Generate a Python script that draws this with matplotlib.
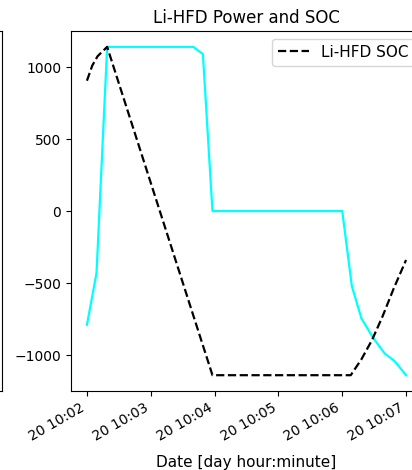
import numpy as np
import matplotlib
matplotlib.use("Agg")
import matplotlib.pyplot as plt
import matplotlib.dates as mdates

start = np.datetime64("2021-01-20T10:02:00")

# Li-HFD power samples (seconds after 10:02:00)
power_t = [0, 9, 19, 100, 109, 118, 240, 249, 258, 269, 280, 289, 300]
power_v = [-790, -430, 1140, 1140, 1090, 0, 0, -520, -745, -880, -990, -1040, -1140]

# Li-HFD SOC (scaled onto the power axis)
soc_t = [0, 5, 10, 19, 118, 248, 258, 268, 278, 288, 300]
soc_v = [905, 1010, 1075, 1140, -1140, -1140, -1030, -896, -730, -545, -340]

power_x = (start + np.array(power_t).astype("timedelta64[s]")).astype("datetime64[ms]").astype(object)
soc_x = (start + np.array(soc_t).astype("timedelta64[s]")).astype("datetime64[ms]").astype(object)

fig = plt.figure(figsize=(4.12, 4.70), dpi=100)

# neighbouring subplot, only its right edge shows in the crop
ax0 = fig.add_axes([-0.5, 0.168, 0.506, 0.766])
ax0.set_xticks([])
ax0.set_yticks([])

ax = fig.add_axes([0.1723, 0.168, 0.852, 0.766])
ax.plot(power_x, power_v, color="cyan", lw=1.6)
ax.plot(soc_x, soc_v, "k--", lw=1.6, label="Li-HFD SOC")
ax.set_ylim(-1250, 1250)
ax.set_yticks([-1000, -500, 0, 500, 1000])
ax.tick_params(labelsize=10)
ax.xaxis.set_major_locator(mdates.MinuteLocator())
ax.xaxis.set_major_formatter(mdates.DateFormatter("%d %H:%M"))
for lbl in ax.get_xticklabels():
    lbl.set_rotation(30)
    lbl.set_ha("right")
ax.set_xlabel("Date [day hour:minute]", fontsize=11, labelpad=8)
ax.set_title("Li-HFD Power and SOC", fontsize=12)
ax.legend(loc="upper right", fontsize=11)

fig.savefig("out.png", dpi=100)
